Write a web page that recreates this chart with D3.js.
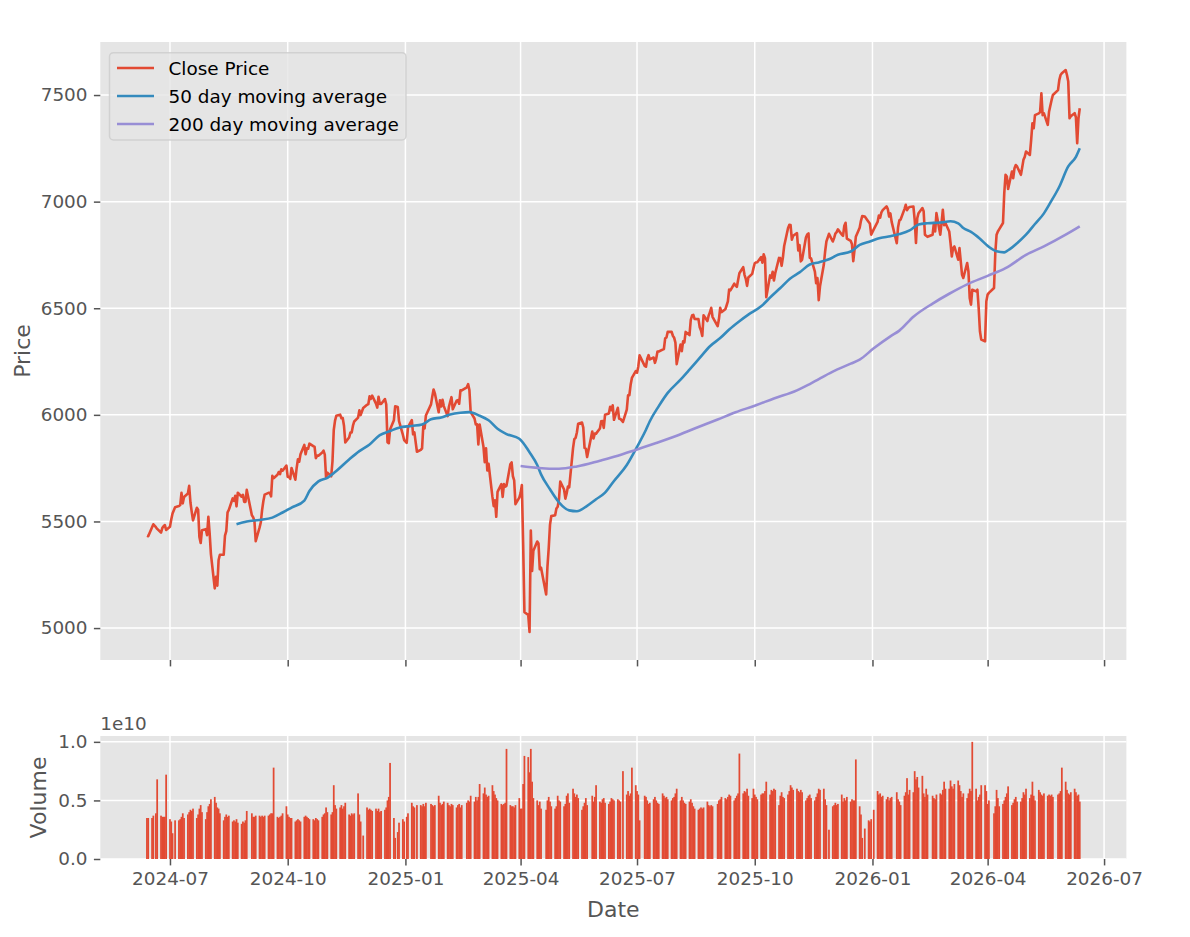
<!DOCTYPE html>
<html>
<head>
<meta charset="utf-8">
<script src="https://cdn.jsdelivr.net/npm/d3@7"></script>
<style>
  body { margin: 0; background: #fff; }
  text { font-family: "DejaVu Sans", sans-serif; }
</style>
</head>
<body>
<div id="chart"></div>
<script>
// Weekly rows Mon..Fri, first week starts on this Monday; null = no trading / no data
const firstMonday = "2024-06-10";

// close price
const closeWeeks = [
  [null,null,null,5433,5431],[5473,5487,null,5473,5465],[5448,5469,5478,5483,5460],[5475,5509,5537,null,5567],
  [5572,5577,5634,5585,5615],[5631,5667,5589,5545,5505],[5564,5555,5427,5399,5459],[5464,5436,5522,5446,5347],
  [5186,5240,5199,5319,5344],[5344,5434,5455,5543,5554],[5608,5597,5620,5571,5635],[5616,5625,5592,5592,5648],
  [null,5529,5520,5503,5408],[5471,5496,5554,5596,5626],[5634,5634,5618,5714,5703],[5719,5732,5722,5745,5738],
  [5762,5709,5709,5700,5751],[5696,5751,5792,5780,5815],[5859,5815,5843,5841,5865],[5853,5851,5797,5809,5808],
  [5823,5832,5813,5705,5729],[5712,5782,5929,5973,5996],[6001,5984,5985,5949,5871],[5894,5917,5917,5949,5969],
  [5987,6021,5999,null,6032],[6047,6050,6087,6075,6090],[6053,6034,6085,6051,6051],[6074,6050,5872,5867,5931],
  [5975,6040,null,6037,5971],[5907,5882,null,5869,5942],[5975,5909,5918,null,5827],[5836,5843,5950,5937,5997],
  [null,6049,6086,6119,6101],[6012,6068,6039,6071,6041],[5994,6038,6061,6083,6026],[6066,6069,6052,6115,6115],
  [null,6129,6144,6117,6013],[5983,5955,5956,5861,5955],[5850,5778,5843,5739,5770],[5615,5572,5599,5522,5639],
  [5675,5615,5675,5663,5668],[5768,5777,5712,5693,5581],[5612,5633,5671,5397,5074],[5062,4982,5457,5268,5363],
  [5406,5397,5276,5283,null],[5158,5288,5376,5485,5525],[5529,5561,5569,5604,5687],[5650,5607,5631,5664,5660],
  [5844,5886,5892,5917,5958],[5964,5940,5845,5842,5802],[null,5922,5889,5912,5912],[5936,5970,5971,5939,6000],
  [6006,6038,6022,6045,5977],[6033,5982,5981,null,5967],[6025,6092,6092,6141,6173],[6205,6198,6227,6279,null],
  [6230,6226,6263,6280,6260],[6269,6244,6264,6297,6297],[6306,6309,6359,6363,6389],[6390,6371,6362,6339,6238],
  [6330,6299,6345,6340,6389],[6374,6446,6466,6469,6450],[6449,6411,6396,6370,6467],[6440,6466,6481,6502,6460],
  [null,6416,6448,6502,6482],[6495,6513,6532,6588,6584],[6615,6606,6600,6632,6664],[6693,6657,6638,6605,6644],
  [6661,6688,6711,6715,6716],[6740,6714,6753,6735,6552],[6654,6644,6671,6630,6664],[6736,6735,6699,6738,6792],
  [6875,6891,6890,6822,6840],[6852,6771,6796,6720,6728],[6832,6846,6851,6737,6734],[6672,6617,6642,6538,6603],
  [6705,6766,6813,null,6849],[6813,6829,6850,6857,6870],[6846,6840,6887,6901,6827],[6816,6800,6721,6775,6835],
  [6878,6910,6932,null,6930],[6905,6896,6845,null,6870],[6905,6935,6925,6950,6960],[6978,6965,6930,6945,6905],
  [null,6805,6880,6912,6916],[6965,6985,6960,6970,6975],[6977,6915,6806,6922,6946],[6970,6955,6845,6840,6835],
  [null,6845,6899,6860,6946],[6845,6900,6962,6890,6900],[6860,6806,6743,6782,6790],[6728,6782,6720,6657,6642],
  [6712,6673,6548,6517,6587],[6579,6587,6501,6392,6353],[6345,6533,6564,6572,null],[6595,6760,6845,6860,6870],
  [6900,7040,7126,7118,7060],[7141,7110,7157,7172,7165],[7126,7160,7196,7210,7235],[7219,7289,7367,7344,7406],
  [7414,7420,7508,7406,7414],[7360,7422,7450,7477,7500],[null,7523,7570,7594,7602],[7617,7594,7563,7391,7400],
  [7415,7395,7274,7391,7438]
];

// volume in units of 1e9
const volumeWeeks = [
  [null,null,null,3.5,3.5],[3.5,3.7,null,3.9,6.8],[3.7,3.6,3.6,3.6,7.2],[3.4,3.2,2.2,null,3.3],
  [3.3,3.4,3.6,3.9,3.5],[3.8,4.0,4.2,4.1,4.3],[3.5,3.8,4.3,4.6,4.0],[3.4,4.0,4.5,4.7,5.1],
  [5.3,4.8,4.4,4.3,3.9],[3.3,3.6,3.8,3.6,3.7],[3.2,3.3,3.2,3.4,3.1],[3.0,3.2,3.1,3.3,4.1],
  [null,3.9,3.6,3.6,3.7],[3.7,3.6,3.7,3.6,3.7],[3.7,3.8,3.9,3.9,7.8],[3.6,3.5,3.6,3.7,3.9],
  [4.5,3.8,3.6,3.5,3.5],[3.2,3.3,3.4,3.3,3.2],[3.6,3.7,3.6,3.5,3.4],[3.4,3.3,3.5,3.4,3.3],
  [3.6,3.8,3.9,4.4,4.0],[3.8,4.0,6.3,4.6,4.3],[4.4,4.6,4.3,4.5,4.8],[3.8,3.7,3.9,3.8,3.9],
  [5.6,3.8,3.2,null,2.0],[4.4,4.2,4.3,4.2,4.1],[4.3,4.1,4.3,4.0,4.1],[4.2,4.4,5.0,5.3,8.2],
  [3.5,1.8,null,2.3,3.1],[3.4,3.2,null,3.6,3.9],[4.8,4.5,4.4,null,4.6],[4.6,4.5,4.7,4.5,4.8],
  [null,4.7,4.6,4.5,4.6],[5.4,4.8,4.6,4.7,4.9],[4.8,4.6,4.5,4.7,4.6],[4.4,4.6,4.7,4.4,4.6],
  [null,4.8,5.0,4.9,5.4],[4.9,5.3,5.0,5.3,6.4],[5.6,6.1,5.5,5.3,5.4],[6.3,5.8,5.5,5.2,5.0],
  [4.7,4.6,4.7,4.8,9.4],[4.6,4.5,4.5,4.4,4.6],[5.2,4.3,4.3,6.4,8.8],[8.7,7.4,9.4,6.6,5.2],
  [5.0,4.6,4.9,4.3,null],[4.2,5.0,5.3,4.9,4.5],[4.3,4.5,5.4,5.0,4.9],[4.5,4.7,5.4,5.6,4.8],
  [6.0,5.6,5.3,5.5,5.2],[4.2,4.5,4.8,5.2,4.6],[null,5.4,4.9,5.3,6.3],[4.9,4.8,5.1,5.2,4.8],
  [4.7,4.9,5.2,5.1,5.0],[5.1,5.0,4.9,null,7.5],[5.5,5.8,5.4,5.6,7.8],[6.3,5.8,5.5,3.3,null],
  [5.4,5.3,5.0,4.7,4.8],[5.1,5.3,5.0,4.8,4.7],[5.6,5.4,5.2,5.3,5.1],[5.0,5.2,5.3,5.6,6.0],
  [5.0,5.3,5.0,4.8,4.7],[4.9,5.1,4.8,4.5,4.3],[4.2,4.3,4.4,4.3,4.4],[4.9,4.6,4.5,4.6,4.5],
  [null,4.7,5.0,5.1,5.3],[5.2,5.1,5.3,5.5,5.4],[5.0,5.2,5.4,5.6,9.0],[5.6,5.8,5.7,6.0,5.4],
  [5.2,6.0,5.5,5.3,5.1],[5.5,5.6,5.6,5.8,6.6],[5.5,5.9,5.8,6.0,5.9],[4.6,5.4,5.7,5.3,5.2],
  [5.5,5.8,6.3,6.1,5.9],[6.0,5.8,5.7,5.9,5.7],[5.0,5.2,5.4,5.5,5.2],[5.0,5.3,5.6,6.0,5.9],
  [6.0,5.1,4.6,null,2.5],[4.5,4.6,4.8,4.6,4.7],[5.5,4.9,5.2,5.0,5.3],[4.9,5.1,5.0,5.0,8.5],
  [4.5,3.8,1.8,null,2.6],[3.3,3.2,3.4,null,4.2],[5.8,5.5,5.6,5.3,5.4],[5.1,5.3,5.0,5.2,5.3],
  [null,5.7,5.1,4.9,4.6],[5.4,5.7,6.9,5.5,5.9],[5.7,7.5,6.8,7.0,6.1],[7.1,5.6,5.3,6.0,5.5],
  [null,5.4,5.2,5.1,5.5],[5.6,5.5,5.9,6.6,6.0],[6.0,6.7,6.2,6.0,6.4],[6.7,6.3,5.8,5.3,5.6],
  [5.2,5.6,6.0,5.8,10.0],[6.0,5.0,5.3,5.5,6.3],[6.3,5.8,4.7,5.0,null],[3.9,4.5,5.9,5.2,4.5],
  [4.7,5.0,5.3,5.6,6.2],[4.6,4.8,5.1,5.3,4.9],[4.9,5.2,5.7,5.5,6.0],[5.2,5.5,6.6,5.4,5.0],
  [5.9,5.7,5.5,5.4,5.6],[5.4,5.5,5.4,5.5,5.3],[null,5.5,5.6,5.8,7.8],[6.6,5.9,5.6,5.5,5.7],
  [6.0,5.7,5.4,5.5,4.9]
];

// 50 day moving average
const ma50Dates = ["2024-08-22","2024-08-30","2024-09-09","2024-09-19","2024-09-27","2024-10-04","2024-10-14","2024-10-18",
  "2024-10-25","2024-11-01","2024-11-08","2024-11-18","2024-11-26","2024-12-04","2024-12-12","2024-12-20","2024-12-27",
  "2025-01-06","2025-01-14","2025-01-21","2025-01-29","2025-02-05","2025-02-13","2025-02-20","2025-02-28","2025-03-07",
  "2025-03-14","2025-03-21","2025-03-31","2025-04-08","2025-04-14","2025-04-17","2025-04-24","2025-05-01","2025-05-09",
  "2025-05-15","2025-05-23","2025-05-30","2025-06-06","2025-06-13","2025-06-23","2025-07-01","2025-07-08","2025-07-11",
  "2025-07-18","2025-07-25","2025-08-04","2025-08-11","2025-08-19","2025-08-27","2025-09-04","2025-09-11","2025-09-19",
  "2025-09-26","2025-10-06","2025-10-14","2025-10-21","2025-10-29","2025-11-05","2025-11-13","2025-11-20","2025-11-28",
  "2025-12-05","2025-12-15","2025-12-22","2025-12-30","2026-01-07","2026-01-15","2026-01-22","2026-01-30","2026-02-06",
  "2026-02-13","2026-02-23","2026-03-03","2026-03-09","2026-03-13","2026-03-19","2026-03-26","2026-04-02","2026-04-08",
  "2026-04-14","2026-04-17","2026-04-24","2026-05-01","2026-05-08","2026-05-15","2026-05-20","2026-05-27","2026-06-03",
  "2026-06-09","2026-06-12"];
const ma50Values = [5487,5500,5507,5518,5542,5565,5598,5643,
  5688,5705,5737,5791,5830,5861,5905,5924,5940,
  5948,5955,5979,5988,6002,6010,6013,5996,5975,
  5935,5910,5888,5825,5765,5721,5651,5590,5552,
  5548,5573,5604,5635,5690,5765,5850,5930,5970,
  6041,6103,6165,6212,6267,6322,6360,6400,6439,
  6470,6509,6556,6595,6641,6668,6705,6715,6730,
  6751,6766,6797,6813,6829,6838,6848,6865,6893,
  6899,6902,6908,6898,6876,6858,6826,6788,6767,
  6762,6772,6805,6845,6895,6945,6995,7070,7165,
  7210,7250];

// 200 day moving average
const ma200Dates = ["2025-04-01","2025-04-15","2025-05-01","2025-05-15","2025-06-02","2025-06-16","2025-07-01","2025-07-16",
  "2025-08-01","2025-08-15","2025-09-02","2025-09-16","2025-10-01","2025-10-16","2025-11-03","2025-11-14","2025-12-01",
  "2025-12-15","2025-12-22","2026-01-02","2026-01-15","2026-01-22","2026-02-02","2026-02-17","2026-03-02","2026-03-16",
  "2026-04-01","2026-04-15","2026-05-01","2026-05-15","2026-06-01","2026-06-12"];
const ma200Values = [5760,5751,5747,5758,5785,5808,5838,5868,
  5902,5936,5978,6012,6043,6077,6115,6148,6203,
  6240,6259,6312,6368,6395,6460,6522,6568,6612,
  6652,6688,6750,6790,6845,6884];

const xTickDates = ["2024-07-01","2024-10-01","2025-01-01","2025-04-01","2025-07-01","2025-10-01","2026-01-01","2026-04-01","2026-07-01"];
const priceTicks = [5000, 5500, 6000, 6500, 7000, 7500];
const volumeTicks = [0, 5, 10]; // 1e9 units, shown as multiples of 1e10

const seriesNames = ["Close Price", "50 day moving average", "200 day moving average"];
const colors = ["#E24A33", "#348ABD", "#988ED5"];

const parse = d3.timeParse("%Y-%m-%d");
const start = parse(firstMonday);

// flatten weekly rows into trading days
const days = [];
closeWeeks.forEach((week, w) => {
  week.forEach((c, i) => {
    if (c == null) return;
    days.push({ date: d3.timeDay.offset(start, w * 7 + i), close: c, volume: volumeWeeks[w][i] });
  });
});
const ma50 = ma50Dates.map((d, i) => ({ date: parse(d), value: ma50Values[i] }));
const ma200 = ma200Dates.map((d, i) => ({ date: parse(d), value: ma200Values[i] }));

const W = 1190, H = 937;
const left = 100.3, right = 1126.4;
const pTop = 42, pBottom = 660;
const vTop = 736, vBottom = 859;
const fs = 18.4, labelFs = 22;
const tick = 6.4, lw = 2.6;

const svg = d3.select("#chart").append("svg")
  .attr("width", W).attr("height", H)
  .style("display", "block");

// x scale with 5% margins like matplotlib
const first = days[0].date, last = days[days.length - 1].date;
const span = last - first;
const x = d3.scaleTime()
  .domain([new Date(+first - 0.05 * span), new Date(+last + 0.05 * span)])
  .range([left, right]);

const pMin = d3.min(days, d => d.close), pMax = d3.max(days, d => d.close);
const yP = d3.scaleLinear()
  .domain([pMin - 0.05 * (pMax - pMin), pMax + 0.05 * (pMax - pMin)])
  .range([pBottom, pTop]);

const vMax = d3.max(days, d => d.volume);
const yV = d3.scaleLinear().domain([0, vMax * 1.05]).range([vBottom, vTop]);

const xTicks = xTickDates.map(parse);

// ---- price panel ----
svg.append("rect").attr("x", left).attr("y", pTop)
  .attr("width", right - left).attr("height", pBottom - pTop).attr("fill", "#E5E5E5");

const pGrid = svg.append("g").attr("stroke", "#fff").attr("stroke-width", 1.5);
pGrid.selectAll(".gx").data(xTicks).enter().append("line")
  .attr("x1", d => x(d)).attr("x2", d => x(d)).attr("y1", pTop).attr("y2", pBottom);
pGrid.selectAll(".gy").data(priceTicks).enter().append("line")
  .attr("x1", left).attr("x2", right).attr("y1", d => yP(d)).attr("y2", d => yP(d));

const lineP = d3.line().x(d => x(d.date)).y(d => yP(d.value));
const lineSmooth = d3.line().x(d => x(d.date)).y(d => yP(d.value)).curve(d3.curveMonotoneX);

svg.append("path")
  .datum(days.map(d => ({ date: d.date, value: d.close })))
  .attr("d", lineP).attr("fill", "none").attr("stroke", colors[0])
  .attr("stroke-width", lw).attr("stroke-linejoin", "round");
svg.append("path").datum(ma50).attr("d", lineSmooth).attr("fill", "none")
  .attr("stroke", colors[1]).attr("stroke-width", lw).attr("stroke-linejoin", "round");
svg.append("path").datum(ma200).attr("d", lineSmooth).attr("fill", "none")
  .attr("stroke", colors[2]).attr("stroke-width", lw).attr("stroke-linejoin", "round");

// axes of price panel (shared x, no x labels)
const styleAxis = g => {
  g.select(".domain").remove();
  g.selectAll(".tick line").attr("stroke", "#555").attr("stroke-width", 1.5);
  g.selectAll(".tick text").attr("fill", "#555").attr("font-size", fs)
    .attr("font-family", "DejaVu Sans");
};
svg.append("g").attr("transform", `translate(0,${pBottom})`)
  .call(d3.axisBottom(x).tickValues(xTicks).tickSize(tick).tickFormat(""))
  .call(styleAxis);
svg.append("g").attr("transform", `translate(${left},0)`)
  .call(d3.axisLeft(yP).tickValues(priceTicks).tickSize(tick).tickPadding(tick).tickFormat(d3.format("d")))
  .call(styleAxis);

// legend
const lg = svg.append("g");
lg.append("rect").attr("x", 109.5).attr("y", 52.7).attr("width", 296.5).attr("height", 87.3)
  .attr("rx", 4).attr("fill", "#E5E5E5").attr("fill-opacity", 0.8)
  .attr("stroke", "#CCCCCC").attr("stroke-opacity", 0.8).attr("stroke-width", 1.5);
seriesNames.forEach((name, i) => {
  const cy = 68 + i * 28;
  lg.append("line").attr("x1", 117).attr("x2", 154).attr("y1", cy).attr("y2", cy)
    .attr("stroke", colors[i]).attr("stroke-width", lw);
  lg.append("text").attr("x", 168.5).attr("y", cy).attr("dy", "0.36em")
    .attr("font-size", fs).attr("fill", "#000").text(name);
});

svg.append("text")
  .attr("transform", `translate(22,${(pTop + pBottom) / 2}) rotate(-90)`)
  .attr("text-anchor", "middle").attr("dy", "0.36em")
  .attr("font-size", labelFs).attr("fill", "#555").text("Price");

// ---- volume panel ----
svg.append("rect").attr("x", left).attr("y", vTop)
  .attr("width", right - left).attr("height", vBottom - vTop).attr("fill", "#E5E5E5");

const vGrid = svg.append("g").attr("stroke", "#fff").attr("stroke-width", 1.5);
vGrid.selectAll(".gx").data(xTicks).enter().append("line")
  .attr("x1", d => x(d)).attr("x2", d => x(d)).attr("y1", vTop).attr("y2", vBottom);
vGrid.selectAll(".gy").data(volumeTicks).enter().append("line")
  .attr("x1", left).attr("x2", right).attr("y1", d => yV(d)).attr("y2", d => yV(d));

const barW = 1.75;
svg.append("g").selectAll("rect").data(days).enter().append("rect")
  .attr("x", d => x(d.date) - barW / 2)
  .attr("width", barW)
  .attr("y", d => yV(d.volume))
  .attr("height", d => yV(0) - yV(d.volume))
  .attr("fill", colors[0]);

svg.append("g").attr("transform", `translate(0,${vBottom})`)
  .call(d3.axisBottom(x).tickValues(xTicks).tickSize(tick).tickPadding(tick).tickFormat(d3.timeFormat("%Y-%m")))
  .call(styleAxis);
svg.append("g").attr("transform", `translate(${left},0)`)
  .call(d3.axisLeft(yV).tickValues(volumeTicks).tickSize(tick).tickPadding(tick).tickFormat(d => (d / 10).toFixed(1)))
  .call(styleAxis);

svg.append("text").attr("x", left).attr("y", vTop - 6)
  .attr("font-size", fs).attr("fill", "#555").text("1e10");

svg.append("text")
  .attr("transform", `translate(38,${(vTop + vBottom) / 2}) rotate(-90)`)
  .attr("text-anchor", "middle").attr("dy", "0.36em")
  .attr("font-size", labelFs).attr("fill", "#555").text("Volume");

svg.append("text")
  .attr("x", (left + right) / 2).attr("y", 909).attr("dy", "0.36em")
  .attr("text-anchor", "middle")
  .attr("font-size", labelFs).attr("fill", "#555").text("Date");
</script>
</body>
</html>
